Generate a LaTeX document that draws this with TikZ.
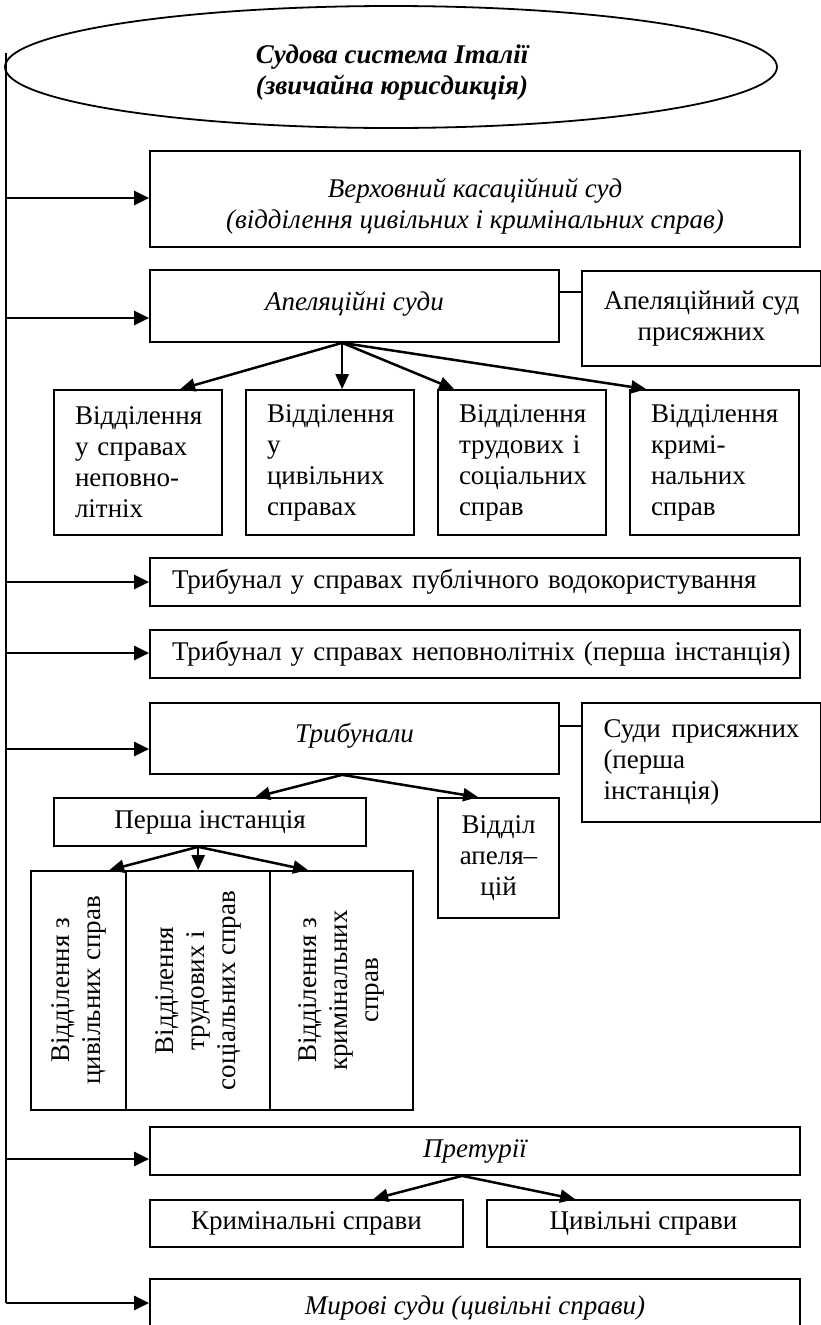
\documentclass[tikz,border=0pt]{standalone}
\usepackage{fontspec}
\setmainfont{Liberation Serif}
\usepackage{graphicx}
\usetikzlibrary{arrows.meta,calc,shapes.geometric}
\newcommand{\fsz}{\fontsize{27}{31}\selectfont}
\begin{document}
\begin{tikzpicture}[x=1pt,y=-1pt,
  box/.style={draw, line width=1.7pt, rectangle, inner sep=0pt, font=\fsz, align=center},
  ibox/.style={box, font=\fsz\itshape},
  lbox/.style={box, align=left, inner xsep=21pt},
  txt/.style={inner sep=0pt, font=\fsz, align=center},
  ell/.style={draw, ellipse, line width=1.8pt, inner sep=0pt},
  arr/.style={line width=2.5pt, -{Triangle[length=15pt,width=14pt]}},
  tarr/.style={line width=2.5pt, -{Triangle[length=15pt,width=13pt]}},
  ln/.style={line width=1.5pt}]
\useasboundingbox (0,0) rectangle (820,1325);

% title ellipse
\node[ell, minimum width=772pt, minimum height=122pt] (sys) at (391,67) {};
\node[txt, font=\fsz\bfseries\itshape] (systxt) at (392,73)
  {Судова система Італії\\(звичайна юрисдикція)};

% boxes
\node[box, minimum width=650pt, minimum height=96pt] (ver) at (475,199) {};
\node[txt, font=\fsz\itshape] (vertxt) at ($(ver.center)+(0,7)$)
  {Верховний касаційний суд\\(відділення цивільних і кримінальних справ)};
\node[ibox, minimum width=409pt, minimum height=72pt, text height=19pt, text depth=11pt] (apel) at (354.5,306) {Апеляційні суди};
\node[box, minimum width=239pt, minimum height=95pt] (apj) at (701.5,318.5) {Апеляційний суд\\присяжних};

\node[lbox, text width=126pt, minimum height=145pt] (d1) at (138,462.5) {Відділення\\у~справах\\неповно-\\літніх};
\node[lbox, text width=126pt, minimum height=145pt] (d2) at (330,462.5) {Відділення\\у\\цивільних\\справах};
\node[lbox, text width=126pt, minimum height=145pt] (d3) at (522,462.5) {Відділення\\трудових~і\\соціальних\\справ};
\node[lbox, text width=127pt, minimum height=145pt] (d4) at (714.5,462.5) {Відділення\\кримі-\\нальних\\справ};

\node[lbox, inner xsep=22pt, text width=606pt, minimum height=48pt] (tpub) at (475,582)
  {\mbox{Трибунал у справах публічного водокористування}};
\node[lbox, inner xsep=22pt, text width=606pt, minimum height=48pt] (tnep) at (475,654)
  {\mbox{Трибунал у справах неповнолітніх (перша інстанція)}};

\node[ibox, minimum width=409pt, minimum height=71pt, text height=19pt, text depth=12pt] (trib) at (354.5,738.5) {Трибунали};
\node[lbox, inner xsep=21.5pt, text width=196pt, minimum height=119pt] (sp) at (701.5,762.5)
  {Суди\hfill присяжних\\(перша\\інстанція)};
\node[box, minimum width=312pt, minimum height=48pt] (pi) at (210,822) {Перша інстанція};
\node[box, minimum width=121pt, minimum height=120pt] (va) at (498.5,858) {Відділ\\апеля–\\цій};

\node[box, minimum width=95pt, minimum height=239pt] (v1) at (78.5,990.5)
  {\rotatebox{90}{\begin{tabular}{@{}c@{}}Відділення з\\цивільних справ\end{tabular}}};
\node[box, minimum width=144pt, minimum height=239pt] (v2) at (198,990.5)
  {\rotatebox{90}{\begin{tabular}{@{}c@{}}Відділення\\трудових і\\соціальних справ\end{tabular}}};
\node[box, minimum width=143pt, minimum height=239pt] (v3) at (341.5,990.5)
  {\rotatebox{90}{\begin{tabular}{@{}c@{}}Відділення з\\кримінальних\\справ\end{tabular}}};

\node[ibox, minimum width=650pt, minimum height=48pt] (pret) at (475,1151) {Претурії};
\node[box, minimum width=313pt, minimum height=47pt] (krim) at (306.5,1223.5) {Кримінальні справи};
\node[box, minimum width=313pt, minimum height=47pt] (civ) at (643.5,1223.5) {Цивільні справи};
\node[ibox, minimum width=650pt, minimum height=66pt, text height=19pt, text depth=14pt] (myr) at (475,1312) {Мирові суди (цивільні справи)};

% trunk
\coordinate (ttop) at (6,53);
\coordinate (tbot) at (6,1303);
\draw[ln] (ttop) -- (tbot);
\coordinate (t1) at (6,198);
\coordinate (t2) at (6,318);
\coordinate (t3) at (6,582);
\coordinate (t4) at (6,653);
\coordinate (t5) at (6,749);
\coordinate (t6) at (6,1159);
\draw[arr] (t1) -- (t1 -| ver.west);
\draw[arr] (t2) -- (t2 -| apel.west);
\draw[arr] (t3) -- (t3 -| tpub.west);
\draw[arr] (t4) -- (t4 -| tnep.west);
\draw[arr] (t5) -- (t5 -| trib.west);
\draw[arr] (t6) -- (t6 -| pret.west);
\draw[arr] (tbot) -- (tbot -| myr.west);

% side connectors
\coordinate (c1) at ($(apel.north east)+(0,23)$);
\draw[ln] (c1) -- (c1 -| apj.west);
\coordinate (c2) at ($(trib.north east)+(0,24)$);
\draw[ln] (c2) -- (c2 -| sp.west);

% tree arrows
\coordinate (a0) at ($(apel.south west)+(193,0)$);
\draw[tarr] (a0) -- ($(d1.north west)+(127,0)$);
\draw[tarr] (a0) -- ($(d2.north west)+(97,0)$);
\draw[tarr] (a0) -- ($(d3.north west)+(17,0)$);
\draw[tarr] (a0) -- ($(d4.north west)+(17,0)$);

\coordinate (b0) at ($(trib.south west)+(193,0)$);
\draw[tarr] (b0) -- ($(pi.north west)+(202,0)$);
\draw[tarr] (b0) -- ($(va.north west)+(41,0)$);

\coordinate (p0) at ($(pi.south west)+(145,0)$);
\draw[tarr] (p0) -- ($(v1.north west)+(79,0)$);
\draw[tarr] (p0) -- ($(v2.north west)+(73,0)$);
\draw[tarr] (p0) -- ($(v3.north west)+(39,0)$);

\coordinate (q0) at ($(pret.south west)+(313,0)$);
\draw[tarr] (q0) -- ($(krim.north west)+(224,0)$);
\draw[tarr] (q0) -- ($(civ.north west)+(89,0)$);
\end{tikzpicture}
\end{document}
